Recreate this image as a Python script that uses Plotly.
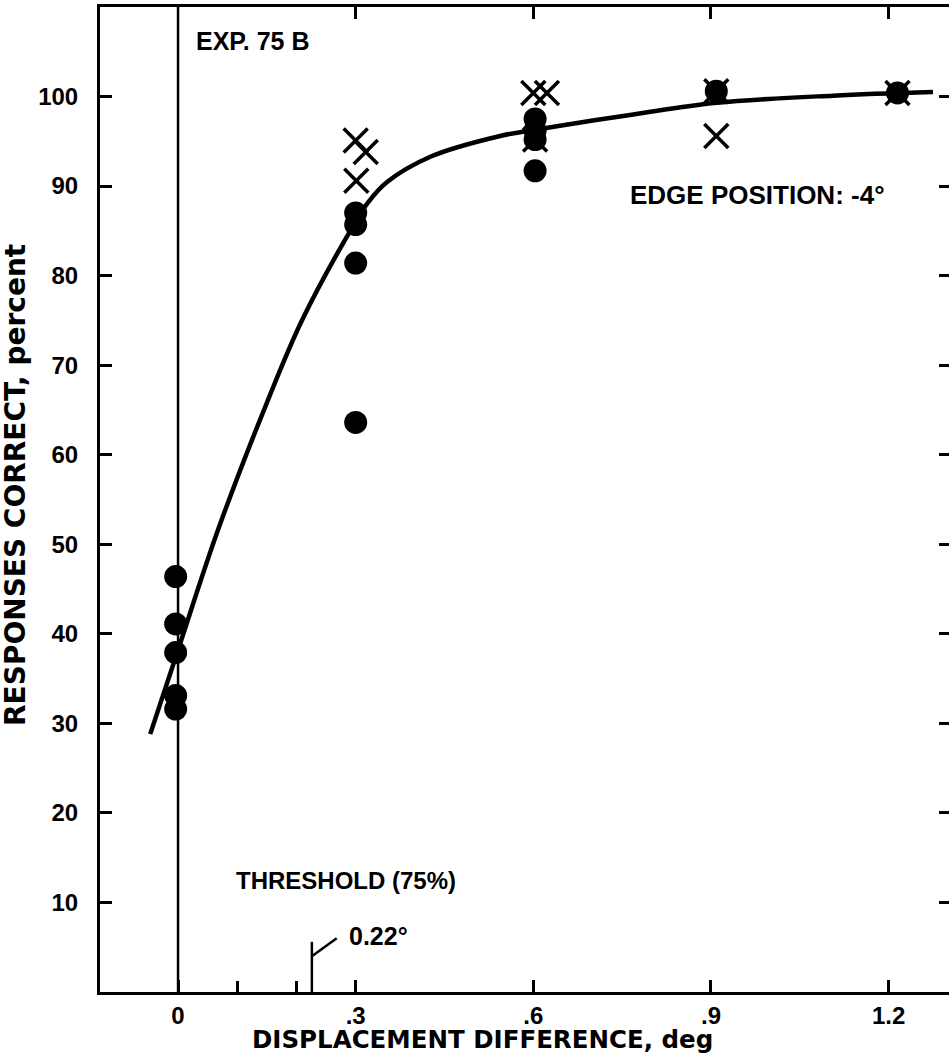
import plotly.graph_objects as go

# ---- data ----
circle_x = [-0.004, -0.004, -0.004, -0.004, -0.004, 0.30, 0.30, 0.30, 0.30,
            0.603, 0.603, 0.603, 0.603, 0.909, 1.215]
circle_y = [46.4, 41.1, 37.9, 33.1, 31.6, 87.0, 85.7, 81.4, 63.6,
            97.5, 96.2, 95.2, 91.7, 100.6, 100.4]

cross_x = [0.300, 0.317, 0.301, 0.600, 0.623, 0.603, 0.909, 0.909, 1.215]
cross_y = [95.1, 93.8, 90.6, 100.4, 100.4, 95.2, 100.6, 95.6, 100.4]

curve_x = [-0.047, 0.0, 0.068, 0.15, 0.21, 0.297, 0.32, 0.352, 0.427,
           0.544, 0.603, 0.769, 0.91, 1.106, 1.275]
curve_y = [28.8, 38.2, 51.7, 65.8, 75.1, 85.7, 88.1, 90.4, 93.3,
           95.6, 96.3, 98.0, 99.3, 100.1, 100.5]

x_tickvals = [0, 0.3, 0.6, 0.9, 1.2]
x_ticktext = ["0", ".3", ".6", ".9", "1.2"]
x_minor_ticks = [0.1, 0.2]
top_tickvals = [0.3, 0.6, 0.9, 1.2]
y_tickvals = [10, 20, 30, 40, 50, 60, 70, 80, 90, 100]

threshold_label = "0.22°"
pointer_x = [0.226, 0.226, None, 0.226, 0.268]
pointer_y = [0.0, 5.6, None, 4.0, 6.0]

X_RANGE = [-0.1318, 1.302]
Y_RANGE = [0, 110]

TICKFONT = dict(family="Liberation Sans, Arial", size=24, color="black", weight="bold")
TITLEFONT = dict(family="DejaVu Sans", size=26, color="black", weight="bold")

fig = go.Figure()

fig.add_trace(go.Scatter(x=curve_x, y=curve_y, mode="lines",
                         line=dict(color="black", width=4.5, shape="spline", smoothing=1.0),
                         hoverinfo="skip", showlegend=False))
fig.add_trace(go.Scatter(x=pointer_x, y=pointer_y, mode="lines",
                         line=dict(color="black", width=2.5),
                         hoverinfo="skip", showlegend=False))
fig.add_trace(go.Scatter(x=cross_x, y=cross_y, mode="markers",
                         marker=dict(symbol="x-thin", size=24, color="black",
                                     line=dict(color="black", width=3.5)),
                         showlegend=False))
fig.add_trace(go.Scatter(x=circle_x, y=circle_y, mode="markers",
                         marker=dict(symbol="circle", size=23, color="black",
                                     line=dict(width=0)),
                         showlegend=False))
# invisible traces to activate the top and right tick axes
fig.add_trace(go.Scatter(x=[X_RANGE[0]], y=[Y_RANGE[0]], xaxis="x2", mode="markers",
                         marker=dict(opacity=0), hoverinfo="skip", showlegend=False))
fig.add_trace(go.Scatter(x=[X_RANGE[0]], y=[Y_RANGE[0]], yaxis="y2", mode="markers",
                         marker=dict(opacity=0), hoverinfo="skip", showlegend=False))

fig.add_vline(x=0, line=dict(color="black", width=2.5))

fig.update_layout(
    width=949, height=1054,
    margin=dict(l=100, r=0, t=7, b=62),
    plot_bgcolor="white", paper_bgcolor="white",
    xaxis=dict(range=X_RANGE, tickvals=x_tickvals, ticktext=x_ticktext,
               ticks="inside", ticklen=12, tickwidth=2.5, tickcolor="black",
               showline=True, linecolor="black", linewidth=3, mirror=False,
               showgrid=False, zeroline=False, tickfont=TICKFONT,
               ticklabelstandoff=0,
               minor=dict(tickvals=x_minor_ticks, ticks="inside", ticklen=11,
                          tickwidth=2.5, tickcolor="black", showgrid=False)),
    xaxis2=dict(range=X_RANGE, overlaying="x", side="top",
                tickvals=top_tickvals, showticklabels=False,
                ticks="inside", ticklen=12, tickwidth=2.5, tickcolor="black",
                showline=True, linecolor="black", linewidth=3,
                showgrid=False, zeroline=False),
    yaxis=dict(range=Y_RANGE, tickvals=y_tickvals,
               ticks="inside", ticklen=12, tickwidth=2.5, tickcolor="black",
               showline=True, linecolor="black", linewidth=3, mirror=False,
               showgrid=False, zeroline=False, tickfont=TICKFONT,
               ticklabelstandoff=14),
    yaxis2=dict(range=Y_RANGE, overlaying="y", side="right", tickvals=y_tickvals,
                showticklabels=False, ticks="inside", ticklen=10, tickwidth=2.5,
                tickcolor="black", showline=False, showgrid=False, zeroline=False),
)

ann_font = dict(family="Liberation Sans, Arial", size=25, color="black", weight="bold")
fig.add_annotation(x=0.127, y=106.2, xref="x", yref="y", text="EXP. 75 B",
                   showarrow=False, font=ann_font, xanchor="center", yanchor="middle")
fig.add_annotation(x=0.978, y=89.0, xref="x", yref="y", text="EDGE POSITION: -4°",
                   showarrow=False, font=dict(ann_font, size=26), xanchor="center", yanchor="middle")
fig.add_annotation(x=0.284, y=12.4, xref="x", yref="y", text="THRESHOLD (75%)",
                   showarrow=False, font=dict(ann_font, size=24), xanchor="center", yanchor="middle")
fig.add_annotation(x=0.338, y=6.25, xref="x", yref="y", text=threshold_label,
                   showarrow=False, font=ann_font, xanchor="center", yanchor="middle")

fig.add_annotation(x=0.4511, y=-0.048, xref="paper", yref="paper",
                   text="DISPLACEMENT DIFFERENCE, deg", showarrow=False, borderpad=0,
                   font=dict(TITLEFONT, size=24.5), xanchor="center", yanchor="middle")
fig.add_annotation(x=-0.1002, y=0.5147, xref="paper", yref="paper",
                   text="RESPONSES CORRECT, percent", showarrow=False, textangle=-90,
                   font=dict(TITLEFONT, size=28), xanchor="center", yanchor="middle")

fig.write_html("out.html", config={"displayModeBar": False},
               post_script="document.body.style.margin='0';document.body.style.overflow='hidden';")
